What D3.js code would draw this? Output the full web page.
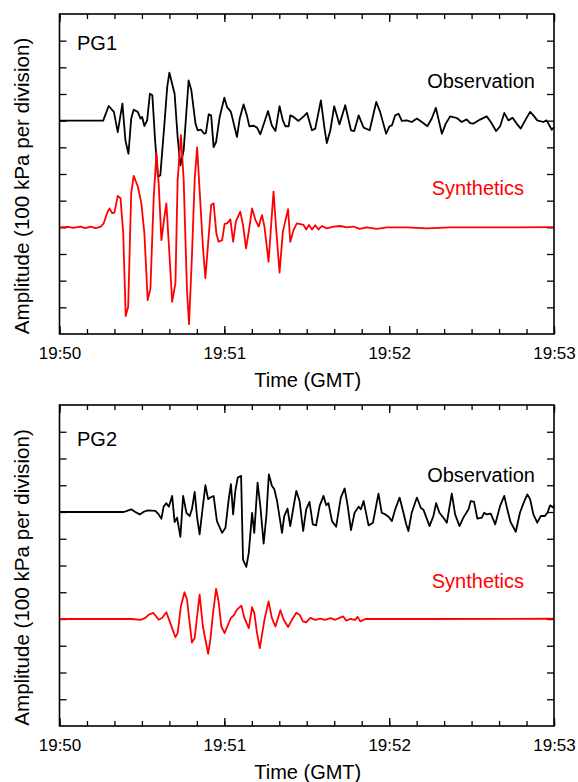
<!DOCTYPE html>
<html>
<head>
<meta charset="utf-8">
<script src="https://cdn.jsdelivr.net/npm/d3@7"></script>
<style>
  body { margin: 0; background: #fff; }
  svg text { font-family: "Liberation Sans", Arial, Helvetica, sans-serif; }
</style>
</head>
<body>
<svg width="578" height="782"></svg>
<script>
// seconds after 19:50:00 GMT, amplitude in divisions (100 kPa)
const pg1Obs = [[0,0],[15.9,0],[17.9,0.55],[19.8,0.33],[21.2,-0.43],[22.9,0.64],[24.0,-0.74],[25.1,-1.24],[26.1,0.08],[27.0,0.41],[28.5,0.33],[29.5,0.08],[30.1,0.14],[30.9,-0.2],[31.9,0.01],[32.9,1.01],[33.8,0.95],[34.8,-0.74],[35.8,-2.11],[36.7,-2.05],[38.2,-0.11],[39.2,1.26],[40.0,1.8],[41.9,1.01],[43.0,-0.61],[44.0,-1.68],[45.2,-1.11],[47.0,1.51],[48.0,1.14],[49.5,-0.11],[50.3,-0.36],[51.5,-0.34],[52.7,-0.49],[53.3,-0.46],[54.3,0.24],[55.2,0.2],[56.1,-0.99],[57.0,-0.8],[58.3,0.14],[60.0,0.86],[61.0,0.51],[62.4,0.33],[64.6,-0.61],[65.6,0.08],[67.0,0.61],[68.2,0.2],[69.1,-0.21],[70.7,-0.19],[71.9,-0.26],[73.1,-0.51],[74.6,-0.05],[75.9,0.36],[77.3,-0.18],[78.6,-0.39],[80.1,0.54],[81.3,0.01],[82.2,-0.21],[83.4,-0.21],[84.0,0.2],[85.2,0.14],[87.0,-0.01],[88.9,0.16],[90.1,0.29],[91.9,-0.36],[93.1,-0.3],[95.15,0.76],[96.4,-0.24],[97.3,-0.84],[98.6,-0.36],[100.0,0.54],[101.9,-0.14],[104.0,0.58],[106.1,-0.36],[107.3,-0.39],[108.9,0.2],[110.7,-0.26],[112.9,-0.36],[115.3,0.7],[116.7,0.33],[118.9,-0.49],[120.1,-0.21],[121.0,-0.18],[122.2,0.2],[123.4,0.26],[124.6,-0.01],[126.4,0.01],[128.2,-0.05],[130.1,0.08],[131.9,-0.05],[133.9,-0.21],[135.5,0.08],[137.0,0.48],[139.2,-0.49],[140.6,-0.11],[142.2,0.16],[144.6,0.1],[146.4,-0.05],[148.2,0.05],[149.5,-0.09],[150.7,-0.11],[153.1,0.04],[155.5,0.16],[157.0,-0.05],[158.9,-0.39],[160.4,-0.21],[161.9,0.29],[163.4,0.01],[164.9,0.11],[166.4,-0.11],[167.9,-0.3],[169.5,0.01],[171.3,0.33],[172.5,0.2],[173.9,0.01],[176.1,-0.05],[177.3,0.01],[179.2,-0.34],[180,-0.24]];

const pg1Syn = [[0,0],[3,0.02],[5,-0.02],[7.6,0.03],[9.4,-0.03],[11.3,0.03],[13.1,-0.03],[14.9,0.02],[16.1,0.15],[17.3,0.53],[18.2,0.71],[19.2,0.53],[20.0,0.55],[21.2,1.18],[22.2,1.09],[23.2,-0.23],[24.1,-3.33],[25.0,-2.98],[26.1,1.28],[27.0,1.93],[28.5,1.53],[29.8,0.9],[30.9,-0.23],[32.1,-2.73],[33.1,-2.29],[34.3,1.15],[35.3,2.78],[36.1,1.65],[37.1,-0.48],[38.2,0.4],[38.9,0.9],[40.0,-0.98],[41.0,-2.79],[42.2,-2.1],[43.0,1.78],[44.2,3.46],[45.2,1.78],[46.4,-2.35],[47.15,-3.63],[48.2,-1.1],[49.2,1.78],[50.1,3.0],[51.0,1.4],[52.2,-0.73],[53.1,-1.91],[54.1,-0.6],[55.2,0.84],[56.1,0.9],[57.1,-0.23],[57.9,-0.54],[59.2,-0.48],[60.1,0.13],[61.0,0.15],[62.2,0.3],[63.2,-0.54],[64.2,0.21],[65.8,0.59],[66.8,0.09],[67.9,-0.79],[68.9,-0.16],[70.1,0.71],[71.3,0.28],[72.5,0.03],[73.7,0.46],[74.6,0.03],[76.1,-1.29],[77.9,1.34],[78.9,-0.1],[80.1,-1.7],[81.3,-0.16],[83.2,0.68],[84.0,-0.54],[85.2,-0.1],[86.4,0.15],[87.6,0.12],[88.85,0.09],[89.8,-0.08],[90.8,0.09],[91.9,-0.08],[93.1,0.08],[94.3,-0.08],[95.5,0.05],[97.3,-0.04],[99.8,0.03],[102.2,0.05],[104.6,0],[107.0,0.03],[109.2,-0.06],[111.9,0],[115.5,-0.06],[119.2,0],[126.4,0],[133.7,-0.04],[142.2,0],[154.3,0],[166.4,0],[180,0.01]];

const pg2Obs = [[0,0],[23.4,0],[24.6,0.04],[26.1,0.1],[27.6,0],[29.2,-0.09],[30.7,0.01],[32.1,0.06],[34.9,0.04],[36.1,-0.09],[37.1,-0.25],[37.9,0.2],[38.9,0.33],[39.8,0.2],[41.0,0.6],[41.9,-0.38],[42.8,-0.21],[44.0,-0.93],[45.0,0.6],[46.2,-0.03],[47.4,-0.15],[48.2,0.1],[49.2,0.75],[50.1,-0.21],[51.0,-0.84],[51.9,-0.03],[53.1,1.0],[54.1,0.48],[54.9,0.54],[56.1,0.6],[57.3,-0.34],[59.2,-0.78],[60.4,-0.59],[61.6,0.48],[62.4,1.04],[63.2,-0.09],[64.0,0.79],[64.9,1.29],[66.1,1.35],[66.8,-1.78],[68.0,-2.05],[68.9,-1.53],[70.1,-0.03],[70.9,-0.78],[72.1,1.1],[73.1,0.23],[74.3,-1.18],[75.3,-0.15],[76.2,1.41],[77.3,0.98],[78.2,0.85],[79.2,0.41],[81.0,-0.78],[81.8,-0.15],[83.0,0.13],[84.0,-0.53],[85.2,0.2],[86.2,0.79],[87.4,0.41],[88.7,-0.71],[89.8,0.1],[91.0,0.38],[92.2,-0.46],[93.4,-0.5],[94.7,0.23],[96.1,0.6],[97.1,0.25],[97.9,0.33],[99.2,-0.34],[100.7,-0.55],[102.4,0.54],[103.8,0.88],[104.9,0.23],[106.1,-0.68],[107.4,-0.03],[108.9,0.2],[109.7,0.1],[110.7,0.41],[112.5,-0.5],[114.1,-0.4],[116.1,0.69],[117.3,-0.03],[118.6,-0.09],[119.8,-0.18],[121.0,-0.34],[122.2,0.1],[123.8,0.54],[125.2,-0.03],[126.2,-0.46],[127.0,-0.71],[128.2,-0.03],[130.1,0.54],[131.5,0.16],[132.5,0.08],[134.7,-0.53],[136.1,-0.15],[137.1,0.33],[138.3,-0.03],[139.5,-0.18],[141.0,-0.4],[142.8,0.69],[144.0,-0.09],[145.6,-0.53],[147.0,-0.21],[148.9,0.1],[149.7,0.41],[150.9,0.38],[152.1,-0.25],[153.7,-0.21],[154.6,-0.03],[155.5,-0.09],[157.0,-0.06],[158.6,-0.46],[160.4,0.23],[161.9,0.6],[163.0,0.1],[164.2,-0.38],[166.1,-0.74],[167.6,-0.03],[168.9,0.33],[170.3,0.66],[171.3,0.48],[172.5,-0.09],[173.9,-0.4],[175.2,-0.15],[176.7,-0.15],[177.6,-0.03],[178.6,0.25],[179.8,0.16],[180,0.25]];

const pg2Syn = [[0,0],[26.4,0],[29.5,-0.03],[31.3,0.04],[32.5,0.16],[34.1,0.23],[34.9,0.13],[36.1,-0.03],[37.3,0.04],[38.9,0.25],[40.1,-0.09],[42.2,-0.68],[43.0,-0.53],[44.2,0.48],[45.5,1.0],[46.4,0.73],[48.2,-0.88],[49.2,-0.71],[51.0,0.91],[52.2,-0.28],[54.1,-1.3],[54.9,-0.78],[55.9,0.23],[57.0,1.13],[57.9,0.66],[58.9,-0.28],[60.1,-0.53],[61.6,-0.15],[62.4,0.04],[63.4,0.13],[64.6,0.35],[66.2,0.5],[67.3,0.04],[68.9,-0.34],[70.1,0.44],[70.9,0.23],[71.9,-0.53],[72.9,-1.09],[73.7,-0.59],[74.6,-0.03],[76.1,0.66],[77.3,0.04],[78.6,-0.28],[80.4,0.33],[81.6,-0.03],[83.2,-0.3],[84.6,-0.03],[86.2,0.23],[87.4,0.16],[88.6,-0.09],[89.8,-0.13],[91.3,0.04],[93.1,-0.03],[94.9,0.01],[96.7,-0.03],[98.6,0.03],[100.4,-0.03],[103.2,0.1],[104.4,-0.06],[105.8,0],[107.6,-0.03],[108.5,0.08],[109.5,-0.09],[111.3,0],[136,0],[180,0.01]];

const stations = ["PG1", "PG2"];
const seriesNames = ["Observation", "Synthetics"];
const seriesOffsets = [8, 4];
const xMajorTicks = [0, 60, 120, 180];
const xTickLabels = ["19:50", "19:51", "19:52", "19:53"];
const yDivisions = 12;

const vis = {

    sels : { svg : null },

    params : {
        left : 59.5,
        right : 554,
        panels : [
            { top : 14, bottom : 334, nameY : 50, obsY : 88, synY : 195 },
            { top : 405, bottom : 726, nameY : 445.5, obsY : 481.5, synY : 587.5 }
        ],
        colors : ["#000", "#ff0000"],
        labelRight : [535, 524]
    },

    render : {

        panel : function(i, obs, syn) {

            const p = vis.params;
            const pan = p.panels[i];
            const g = vis.sels.svg.append("g");

            const x = d3.scaleLinear().domain([0, 180]).range([p.left, p.right]);
            const y = d3.scaleLinear().domain([0, yDivisions]).range([pan.bottom, pan.top]);

            const minor = d3.range(0, 181, 10);
            const yTicks = d3.range(1, yDivisions);

            // inward ticks on all four sides
            g.append("g").attr("transform", `translate(0,${pan.bottom})`)
              .call(d3.axisBottom(x).tickValues(minor).tickSize(-5).tickFormat(""));
            g.append("g").attr("transform", `translate(0,${pan.bottom})`)
              .call(d3.axisBottom(x).tickValues(xMajorTicks).tickSizeInner(-8).tickSizeOuter(0).tickPadding(13)
                .tickFormat((d, k) => xTickLabels[k]));
            g.append("g").attr("transform", `translate(0,${pan.top})`)
              .call(d3.axisTop(x).tickValues(minor).tickSize(-5).tickFormat(""));
            g.append("g").attr("transform", `translate(0,${pan.top})`)
              .call(d3.axisTop(x).tickValues(xMajorTicks).tickSize(-8).tickFormat(""));
            g.append("g").attr("transform", `translate(${p.left},0)`)
              .call(d3.axisLeft(y).tickValues(yTicks).tickSize(-7).tickFormat(""));
            g.append("g").attr("transform", `translate(${p.right},0)`)
              .call(d3.axisRight(y).tickValues(yTicks).tickSize(-7).tickFormat(""));

            g.selectAll(".domain").remove();
            g.selectAll(".tick line").attr("stroke", "#000").attr("stroke-width", 1.3);
            g.selectAll(".tick text").attr("font-size", 17).attr("fill", "#000")
              .attr("font-family", "'Liberation Sans', Arial, sans-serif");

            const line = off => d3.line().x(d => x(d[0])).y(d => y(off + d[1]));

            [obs, syn].forEach((s, k) => {
                g.append("path")
                  .datum(s)
                  .attr("d", line(seriesOffsets[k]))
                  .attr("fill", "none")
                  .attr("stroke", p.colors[k])
                  .attr("stroke-width", 1.8)
                  .attr("stroke-linejoin", "round");
            });

            g.append("rect")
              .attr("x", p.left).attr("y", pan.top)
              .attr("width", p.right - p.left).attr("height", pan.bottom - pan.top)
              .attr("fill", "none").attr("stroke", "#000").attr("stroke-width", 1.6);

            g.append("text").attr("x", 77).attr("y", pan.nameY)
              .attr("font-size", 20).text(stations[i]);

            [pan.obsY, pan.synY].forEach((ty, k) => {
                g.append("text").attr("x", p.labelRight[k]).attr("y", ty)
                  .attr("text-anchor", "end").attr("font-size", 20)
                  .attr("fill", p.colors[k]).text(seriesNames[k]);
            });

            g.append("text")
              .attr("x", (p.left + p.right) / 2 + 1).attr("y", pan.bottom + 53)
              .attr("text-anchor", "middle").attr("font-size", 20)
              .text("Time (GMT)");

            const cy = (pan.top + pan.bottom) / 2 + 12;
            g.append("text")
              .attr("transform", `translate(28.5,${cy}) rotate(-90)`)
              .attr("text-anchor", "middle").attr("font-size", 20.6)
              .text("Amplitude (100 kPa per division)");

        }

    },

    control : {

        init : function() {
            vis.sels.svg = d3.select("svg");
            vis.render.panel(0, pg1Obs, pg1Syn);
            vis.render.panel(1, pg2Obs, pg2Syn);
        }

    }

}

vis.control.init();
</script>
</body>
</html>
